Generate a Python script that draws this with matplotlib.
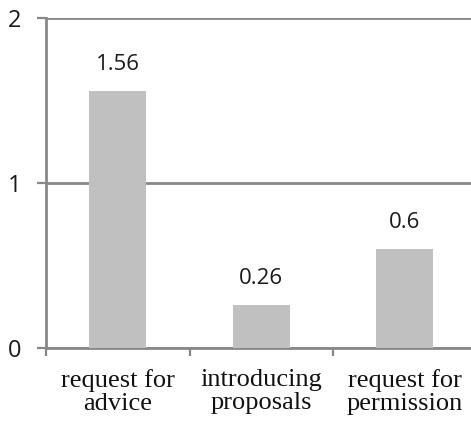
import matplotlib
matplotlib.use("Agg")
import matplotlib.pyplot as plt

categories = ["request for\nadvice", "introducing\nproposals", "request for\npermission"]
values = [1.56, 0.26, 0.6]
value_labels = ["1.56", "0.26", "0.6"]
y_ticks = [0, 1, 2]

grey_line = "#878787"
bar_color = "#c0c0c0"

fig = plt.figure(figsize=(4.71, 4.22), dpi=100)
ax = fig.add_axes([46 / 471, 1 - 348 / 422, 430.5 / 471, 330 / 422])

x = list(range(len(categories)))
ax.bar(x, values, width=0.4, color=bar_color, zorder=3)

for xi, v, lab in zip(x, values, value_labels):
    ax.annotate(lab, (xi, v), xytext=(0, 19), textcoords="offset points",
                ha="center", va="center", fontsize=16, family="Open Sans",
                color="#1a1a1a")

ax.set_xlim(-0.5, 2.5)
ax.set_ylim(0, 2)

ax.set_yticks(y_ticks)
ax.set_yticklabels([str(t) for t in y_ticks], family="Open Sans", fontsize=17,
                   color="#1a1a1a")
ax.yaxis.grid(True, color=grey_line, linewidth=2, zorder=1)
ax.tick_params(axis="y", length=6.5, width=1.6, color=grey_line, pad=11)

# category labels centred, tick marks at category boundaries
ax.set_xticks([-0.5, 0.5, 1.5, 2.5])
ax.set_xticklabels([])
ax.tick_params(axis="x", length=6, width=1.6, color=grey_line)
ax.set_xticks(x, minor=True)
ax.set_xticklabels(categories, minor=True, family="Liberation Serif",
                   fontsize=19, linespacing=1.08, color="#111111")
ax.tick_params(axis="x", which="minor", length=0, pad=15)

for side in ["top", "right"]:
    ax.spines[side].set_visible(False)
for side in ["left", "bottom"]:
    ax.spines[side].set_color(grey_line)
    ax.spines[side].set_linewidth(2)

fig.savefig("out.png", dpi=100)
